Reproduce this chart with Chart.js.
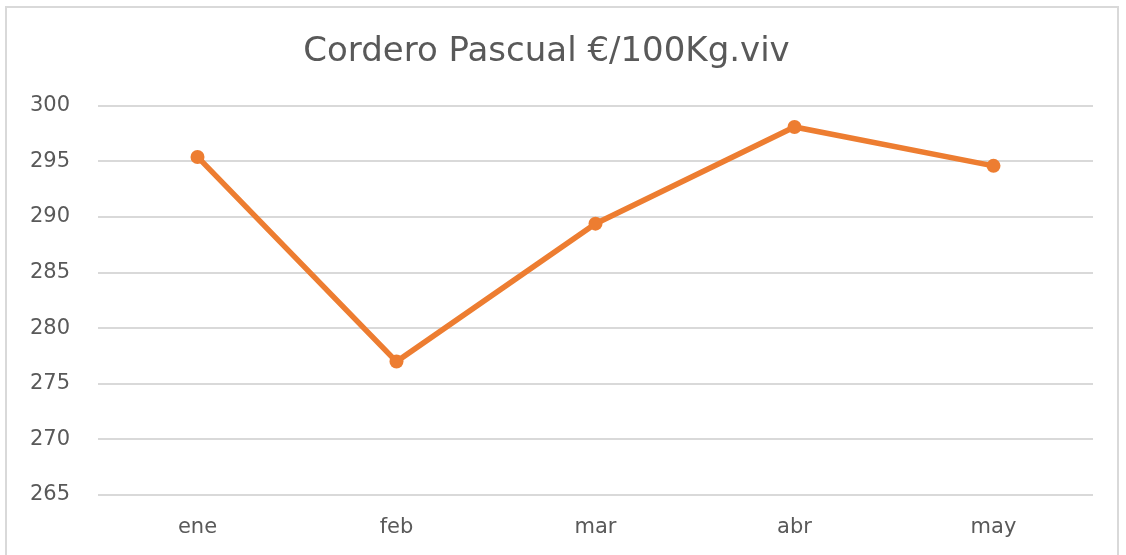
<!DOCTYPE html>
<html>
<head>
<meta charset="utf-8">
<script src="https://cdn.jsdelivr.net/npm/chart.js@4/dist/chart.umd.min.js"></script>
<style>
    html, body { margin: 0; padding: 0; background: #fff; overflow: hidden; }
    #frame {
        position: absolute; left: 5px; top: 6px; width: 1114px; height: 600px;
        border: 2px solid #d9d9d9; box-sizing: border-box;
    }
    #wrap { position: absolute; left: 0; top: 0; width: 1126px; height: 555px; }
</style>
</head>
<body>
<div id="frame"></div>
<div id="wrap"><canvas id="lambChart"></canvas></div>
<script>
const chartTitle = 'Cordero Pascual €/100Kg.viv';
const months = ['ene', 'feb', 'mar', 'abr', 'may'];
const prices = [295.4, 277.0, 289.4, 298.1, 294.6];
const yMin = 265;
const yMax = 300;
const yStep = 5;

document.addEventListener("DOMContentLoaded", () => {
    const textColor = '#595959';
    const gridColor = '#d9d9d9';
    const orange = '#ED7D31';

    Chart.defaults.font.family = "'DejaVu Sans', 'Open Sans', sans-serif";
    Chart.defaults.color = textColor;

    const ctx = document.getElementById('lambChart').getContext('2d');
    new Chart(ctx, {
        type: 'line',
        data: {
            labels: months,
            datasets: [{
                label: chartTitle,
                data: prices,
                borderColor: orange,
                backgroundColor: orange,
                borderWidth: 5.5,
                pointRadius: 7,
                pointHoverRadius: 7,
                pointBorderWidth: 0,
                tension: 0
            }]
        },
        options: {
            responsive: true,
            maintainAspectRatio: false,
            animation: false,
            layout: { padding: { left: 0, right: 33, top: 0, bottom: 0 } },
            scales: {
                x: {
                    offset: true,
                    grid: { display: false, drawTicks: false },
                    border: { display: false },
                    ticks: { padding: 20, font: { size: 21 }, color: textColor },
                    afterFit: (scale) => { scale.height = 60; }
                },
                y: {
                    min: yMin,
                    max: yMax,
                    grid: { color: gridColor, lineWidth: 2, drawTicks: false },
                    border: { display: false },
                    ticks: { stepSize: yStep, padding: 28, font: { size: 21 }, color: textColor },
                    afterFit: (scale) => { scale.width = 98; }
                }
            },
            plugins: {
                legend: { display: false },
                tooltip: { enabled: false },
                title: {
                    display: true,
                    text: chartTitle,
                    color: textColor,
                    font: { size: 34, weight: 'normal' },
                    padding: { top: 32, bottom: 33 }
                }
            }
        }
    });
});
</script>
</body>
</html>
